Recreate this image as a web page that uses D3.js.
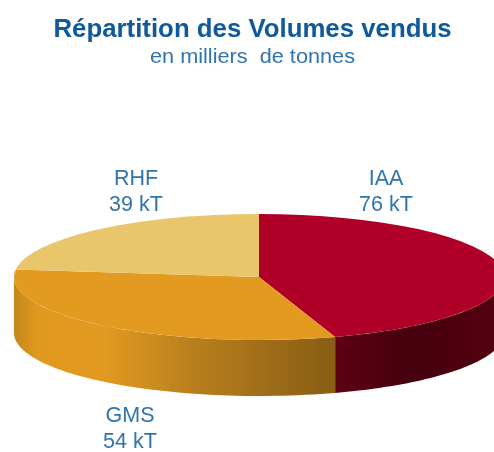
<!DOCTYPE html>
<html lang="fr">
<head>
<meta charset="UTF-8">
<title>Répartition des Volumes vendus</title>
<script src="https://d3js.org/d3.v7.min.js"></script>
<style>
    html, body { margin: 0; padding: 0; background: #fff; overflow: hidden; }
    text { font-family: "Liberation Sans", Arial, sans-serif; white-space: pre; }
    .marks, .txt { filter: blur(0.6px); }
</style>
</head>
<body>
<script>
// Data
const categories = ["IAA", "GMS", "RHF"];
const volumes = [76, 54, 39];
const valueLabels = ["76 kT", "54 kT", "39 kT"];
const topColors = ["#b10028", "#e29a20", "#e9c66b"];
const title = "Répartition des Volumes vendus";
const subtitle = "en milliers  de tonnes";

const width = 494, height = 452;
const cx = 259, cy = 277, rx = 245, ry = 63, depth = 56;

const svg = d3.select("body").append("svg")
    .attr("width", width)
    .attr("height", height);

// Side wall gradients
const defs = svg.append("defs");
function gradient(id, x1, x2, stops) {
    const g = defs.append("linearGradient")
        .attr("id", id)
        .attr("gradientUnits", "userSpaceOnUse")
        .attr("x1", x1).attr("x2", x2).attr("y1", 0).attr("y2", 0);
    stops.forEach(s => g.append("stop").attr("offset", s[0]).attr("stop-color", s[1]));
}
gradient("wallGMS", 14, 337, [[0, "#c4871c"], [0.07, "#e0981f"], [0.28, "#e29a20"], [0.55, "#b97f1d"], [1, "#875c14"]]);
gradient("wallIAA", 337, 504, [[0, "#5c0014"], [0.45, "#45000e"], [1, "#55000f"]]);

const pie = d3.pie().sort(null)(volumes);

// Ellipse point for a pie angle (0 = top, clockwise)
const px = a => cx + rx * Math.sin(a);
const py = a => cy - ry * Math.cos(a);

const marks = svg.append("g").attr("class", "marks");

// Side walls, only the front half (angles between PI/2 and 3PI/2) is visible
function wallPath(a0, a1) {
    const p = d3.path();
    const n = 60;
    const angs = d3.range(n + 1).map(i => a0 + (a1 - a0) * i / n);
    angs.forEach((a, i) => i ? p.lineTo(px(a), py(a)) : p.moveTo(px(a), py(a)));
    angs.reverse().forEach(a => p.lineTo(px(a), py(a) + depth));
    p.closePath();
    return p.toString();
}
const wallIds = ["wallIAA", "wallGMS"];
pie.slice(0, 2).forEach((d, i) => {
    const a0 = Math.max(d.startAngle, Math.PI / 2);
    const a1 = Math.min(d.endAngle, 3 * Math.PI / 2);
    marks.append("path")
        .attr("d", wallPath(a0, a1))
        .attr("fill", `url(#${wallIds[i]})`);
});

// Top face
const arc = d3.arc().innerRadius(0).outerRadius(rx);
marks.append("g")
    .attr("transform", `translate(${cx},${cy}) scale(1,${ry / rx})`)
    .selectAll("path")
    .data(pie)
    .join("path")
    .attr("d", arc)
    .attr("fill", (d, i) => topColors[i]);

// Texts
const txt = svg.append("g").attr("class", "txt");
txt.append("text")
    .attr("x", 252.5).attr("y", 37)
    .attr("text-anchor", "middle")
    .attr("font-size", 25.8).attr("font-weight", "bold")
    .attr("fill", "#0f5a9c")
    .text(title);
txt.append("text")
    .attr("x", 150).attr("y", 63)
    .attr("font-size", 19.5)
    .attr("textLength", 205).attr("lengthAdjust", "spacingAndGlyphs")
    .attr("fill", "#2f74ad")
    .text(subtitle);

// label positions per category: [x centre, first line baseline]
const labelPos = [[386, 185], [130, 422], [136, 185]];
categories.forEach((c, i) => {
    txt.append("text")
        .attr("x", labelPos[i][0]).attr("y", labelPos[i][1])
        .attr("text-anchor", "middle")
        .attr("font-size", 21.5).attr("fill", "#2f74ad")
        .text(c);
    txt.append("text")
        .attr("x", labelPos[i][0]).attr("y", labelPos[i][1] + 25.5)
        .attr("text-anchor", "middle")
        .attr("font-size", 21.5).attr("fill", "#2f74ad")
        .text(valueLabels[i]);
});
</script>
</body>
</html>
